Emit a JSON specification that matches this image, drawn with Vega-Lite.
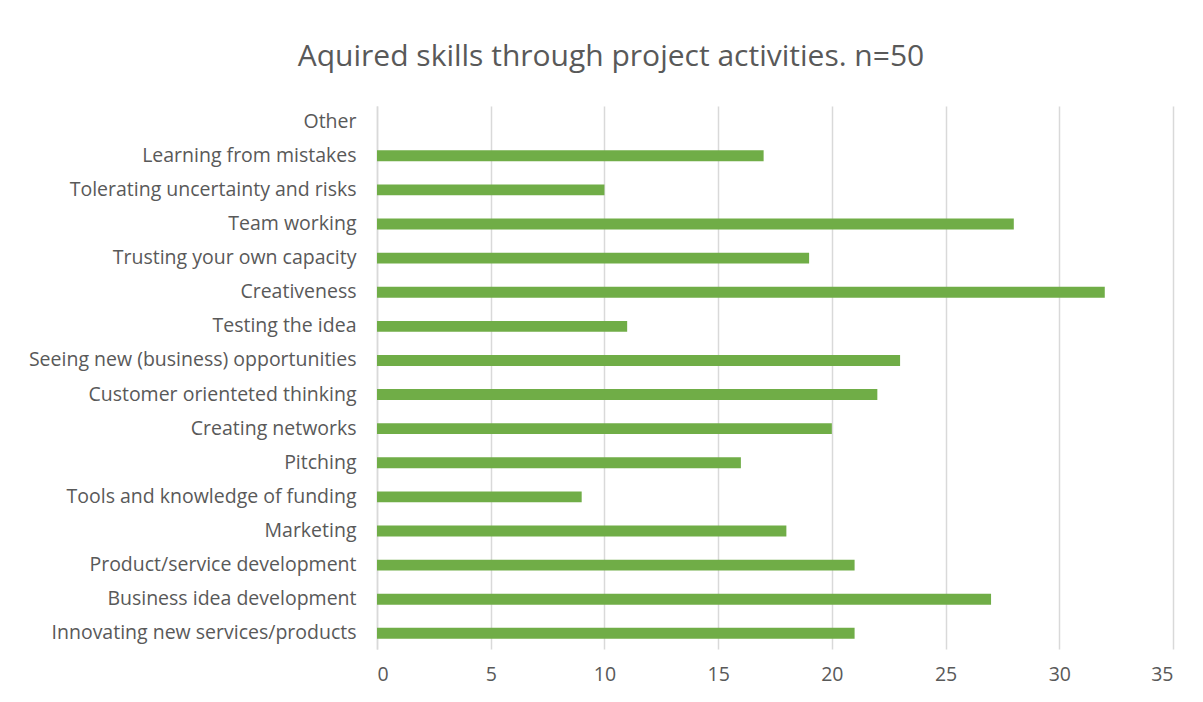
{
  "$schema": "https://vega.github.io/schema/vega-lite/v6.json",
  "width": 796,
  "height": 543,
  "autosize": "none",
  "padding": {"left": 377, "top": 106, "right": 30, "bottom": 53},
  "background": "white",
  "title": {
    "text": "Aquired skills through project activities. n=50",
    "fontSize": 30,
    "font": "Open Sans",
    "fontWeight": "normal",
    "color": "#595959",
    "anchor": "middle",
    "dx": -164,
    "offset": 34
  },
  "data": {
    "values": [
      {"skill": "Other", "count": 0},
      {"skill": "Learning from mistakes", "count": 17},
      {"skill": "Tolerating uncertainty and risks", "count": 10},
      {"skill": "Team working", "count": 28},
      {"skill": "Trusting your own capacity", "count": 19},
      {"skill": "Creativeness", "count": 32},
      {"skill": "Testing the idea", "count": 11},
      {"skill": "Seeing new (business) opportunities", "count": 23},
      {"skill": "Customer orienteted thinking", "count": 22},
      {"skill": "Creating networks", "count": 20},
      {"skill": "Pitching", "count": 16},
      {"skill": "Tools and knowledge of funding", "count": 9},
      {"skill": "Marketing", "count": 18},
      {"skill": "Product/service development", "count": 21},
      {"skill": "Business idea development", "count": 27},
      {"skill": "Innovating new services/products", "count": 21}
    ]
  },
  "mark": {"type": "bar", "color": "#70AD47"},
  "encoding": {
    "y": {
      "field": "skill",
      "type": "nominal",
      "sort": null,
      "title": null,
      "scale": {"paddingInner": 0.68, "paddingOuter": 0.3},
      "axis": {
        "ticks": false,
        "domain": true,
        "domainColor": "#D9D9D9",
        "domainWidth": 1.5,
        "labelPadding": 21,
        "labelFontSize": 19.5,
        "labelFont": "Open Sans",
        "labelColor": "#595959",
        "labelLimit": 400
      }
    },
    "x": {
      "field": "count",
      "type": "quantitative",
      "title": null,
      "scale": {"domain": [0, 35], "nice": false},
      "axis": {
        "values": [0, 5, 10, 15, 20, 25, 30, 35],
        "ticks": false,
        "domain": false,
        "grid": true,
        "gridColor": "#D9D9D9",
        "gridWidth": 1.5,
        "labelPadding": 16,
        "labelFontSize": 19.5,
        "labelFont": "Open Sans",
        "labelColor": "#595959"
      }
    }
  },
  "config": {
    "view": {"stroke": null}
  }
}
